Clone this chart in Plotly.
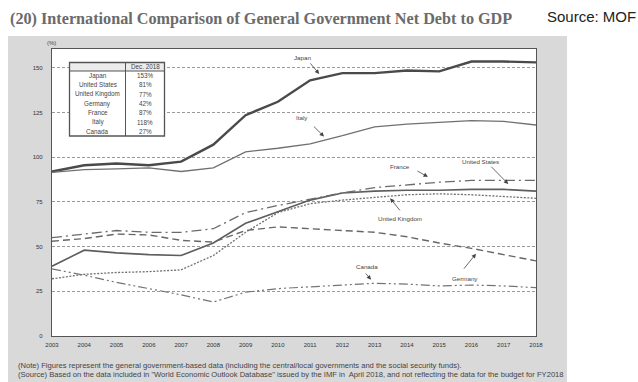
import plotly.graph_objects as go

# ---- data: general government net debt, % of GDP ----
years = list(range(2003, 2019))
japan = [92, 95.5, 96.5, 95.5, 97.5, 107, 123.5, 131, 143, 147, 147, 148.5, 148, 153.5, 153.5, 153]
united_states = [39, 48, 46.5, 45.5, 45, 52, 63, 69.5, 76, 80, 81, 81.5, 81.5, 82, 82, 81]
united_kingdom = [32, 34.5, 35.5, 36, 37, 45, 58, 69, 74, 76, 77.5, 79, 79.5, 79, 78, 77]
germany = [53, 54.5, 57, 56.5, 53.5, 52.5, 59, 61, 60, 59, 58, 55.5, 52, 49, 45.5, 42]
france = [55, 57, 59, 58, 58, 60, 69, 73, 76.5, 80, 83, 84.5, 86, 87, 87, 87]
italy = [91.5, 93, 93.5, 94, 92, 94, 103, 105, 107.5, 112, 117, 118.5, 119.5, 120.5, 120, 118]
canada = [37.5, 34, 30, 26.5, 23, 19, 24.5, 26.5, 27.5, 28.5, 29.5, 29, 28, 28.5, 28, 27]

table_countries = ["Japan", "United States", "United Kingdom", "Germany", "France", "Italy", "Canada"]
y_ticks = [0, 25, 50, 75, 100, 125, 150]

series = {
    "Japan": japan,
    "United States": united_states,
    "United Kingdom": united_kingdom,
    "Germany": germany,
    "France": france,
    "Italy": italy,
    "Canada": canada,
}

styles = {
    "Japan": dict(color="#4a4a4a", width=2.4, dash="solid"),
    "Italy": dict(color="#707070", width=1.3, dash="solid"),
    "United States": dict(color="#5e5e5e", width=1.6, dash="solid"),
    "United Kingdom": dict(color="#707070", width=1.3, dash="2px,1.5px"),
    "France": dict(color="#6a6a6a", width=1.3, dash="10px,4px,2px,4px"),
    "Germany": dict(color="#666666", width=1.4, dash="7px,4px"),
    "Canada": dict(color="#747474", width=1.2, dash="9px,3px,2px,3px,2px,3px"),
}

# ---- figure geometry (pixels) ----
W, H = 638, 382
L, R, T, B = 52, 536, 49, 336


def px(x):
    return (x - L) / (R - L)


def py(y):
    return (B - y) / (B - T)


def paper_text(text, x, y, size, color="#444444", family="Liberation Sans, Arial",
               xanchor="center"):
    return dict(text=text, xref="paper", yref="paper", x=px(x), y=py(y),
                xanchor=xanchor, yanchor="middle", showarrow=False,
                font=dict(family=family, size=size, color=color))


fig = go.Figure()
for name, vals in series.items():
    fig.add_trace(go.Scatter(x=years, y=vals, mode="lines", name=name,
                             line=styles[name], showlegend=False, hoverinfo="skip"))

shapes = [
    # grey panel behind the chart
    dict(type="rect", xref="paper", yref="paper", x0=px(8), x1=px(567), y0=py(390), y1=py(36),
         fillcolor="#d9d9d9", line_width=0, layer="below"),
    # white plotting area
    dict(type="rect", xref="paper", yref="paper", x0=0, x1=1, y0=0, y1=1,
         fillcolor="white", line_width=0, layer="below"),
]

annotations = [
    paper_text("<b>(20) International Comparison of General Government Net Debt to GDP</b>",
               8, 19, 16.2, color="#6b6b6b", family="Liberation Serif, Times New Roman, serif",
               xanchor="left"),
    paper_text("Source: MOF", 545, 16, 15, color="#222222", xanchor="left"),
    paper_text("(%)", 51, 43, 6),
    paper_text("(Note) Figures represent the general government-based data (including the central/local governments and the social security funds).",
               16, 365, 7.6, xanchor="left"),
    paper_text("(Source) Based on the data included in \"World Economic Outlook Database\" issued by the IMF in  April 2018, and not reflecting the data for the budget for FY2018",
               16, 374.5, 7.6, xanchor="left"),
]

# ---- Dec. 2018 table (opaque, drawn over the grid) ----
tx0, tx1, tcol = 69.5, 164.5, 125.5
ty0, thead, ty1 = 62.5, 71, 136
shapes += [
    dict(type="rect", xref="paper", yref="paper", x0=px(tx0), x1=px(tx1), y0=py(ty1), y1=py(ty0),
         fillcolor="white", line_width=0, layer="above"),
    dict(type="rect", xref="paper", yref="paper", x0=px(tx0), x1=px(tx1), y0=py(thead), y1=py(ty0),
         fillcolor="#ececec", line_width=0, layer="above"),
    dict(type="rect", xref="paper", yref="paper", x0=px(tx0), x1=px(tx1), y0=py(ty1), y1=py(ty0),
         fillcolor="rgba(0,0,0,0)", line=dict(color="#555555", width=1.3), layer="above"),
    dict(type="line", xref="paper", yref="paper", x0=px(tx0), x1=px(tx1), y0=py(thead), y1=py(thead),
         line=dict(color="#555555", width=1), layer="above"),
    dict(type="line", xref="paper", yref="paper", x0=px(tcol), x1=px(tcol), y0=py(ty1), y1=py(ty0),
         line=dict(color="#555555", width=1), layer="above"),
]
annotations.append(paper_text("Dec. 2018", (tcol + tx1) / 2, (ty0 + thead) / 2, 6.3))
row_h = (ty1 - thead) / len(table_countries)
for i, c in enumerate(table_countries):
    yc = thead + row_h * (i + 0.5)
    annotations.append(paper_text(c, (tx0 + tcol) / 2, yc, 6.3))
    annotations.append(paper_text(f"{series[c][-1]:.0f}%", (tcol + tx1) / 2, yc, 6.3))

# ---- series labels with pointer arrows (label pos, arrow tail, arrow head) ----
labels = [
    ("Japan", (2010.77, 156), (2010.97, 153.3), (2011.28, 146.5)),
    ("Italy", (2010.76, 122), (2011.07, 118), (2011.43, 111.5)),
    ("France", (2013.79, 95), (2014.28, 92.7), (2014.65, 89)),
    ("United States", (2016.27, 97.8), (2016.57, 95.5), (2017.14, 85)),
    ("United Kingdom", (2013.8, 65.7), (2013.82, 69.4), (2013.48, 77)),
    ("Canada", (2012.76, 38.6), (2012.68, 35.8), (2012.89, 31.5)),
    ("Germany", (2015.81, 32.1), (2015.73, 36.8), (2016.14, 46)),
]
for name, (lx, ly), (ax, ay), (hx, hy) in labels:
    annotations.append(dict(text=name, x=lx, y=ly, xref="x", yref="y", showarrow=False,
                            xanchor="center", yanchor="middle",
                            font=dict(family="Liberation Sans, Arial", size=6.2, color="#444444")))
    annotations.append(dict(text="", x=hx, y=hy, ax=ax, ay=ay, xref="x", yref="y", axref="x", ayref="y",
                            showarrow=True, arrowhead=2, arrowsize=1.1, arrowwidth=0.8,
                            arrowcolor="#444444"))

fig.update_layout(
    width=W, height=H,
    margin=dict(l=L, r=W - R, t=T, b=H - B, pad=0),
    paper_bgcolor="white", plot_bgcolor="rgba(0,0,0,0)",
    shapes=shapes, annotations=annotations,
    xaxis=dict(range=[2003, 2018], tickvals=years, ticktext=[str(y) for y in years],
               showgrid=False, showline=True, mirror=True, linecolor="#555555", linewidth=1.3,
               zeroline=False, ticks="", ticklabelstandoff=3,
               tickfont=dict(family="Liberation Sans, Arial", size=6, color="#333333")),
    yaxis=dict(range=[0, 160.5], tickvals=y_ticks, showgrid=True, gridcolor="#9a9a9a", gridwidth=0.8,
               griddash="3px,2px", showline=True, mirror=True, linecolor="#555555", linewidth=1.3,
               zeroline=False, ticks="", ticklabelstandoff=7,
               tickfont=dict(family="Liberation Sans, Arial", size=6, color="#333333")),
)

fig.write_html("out.html")
